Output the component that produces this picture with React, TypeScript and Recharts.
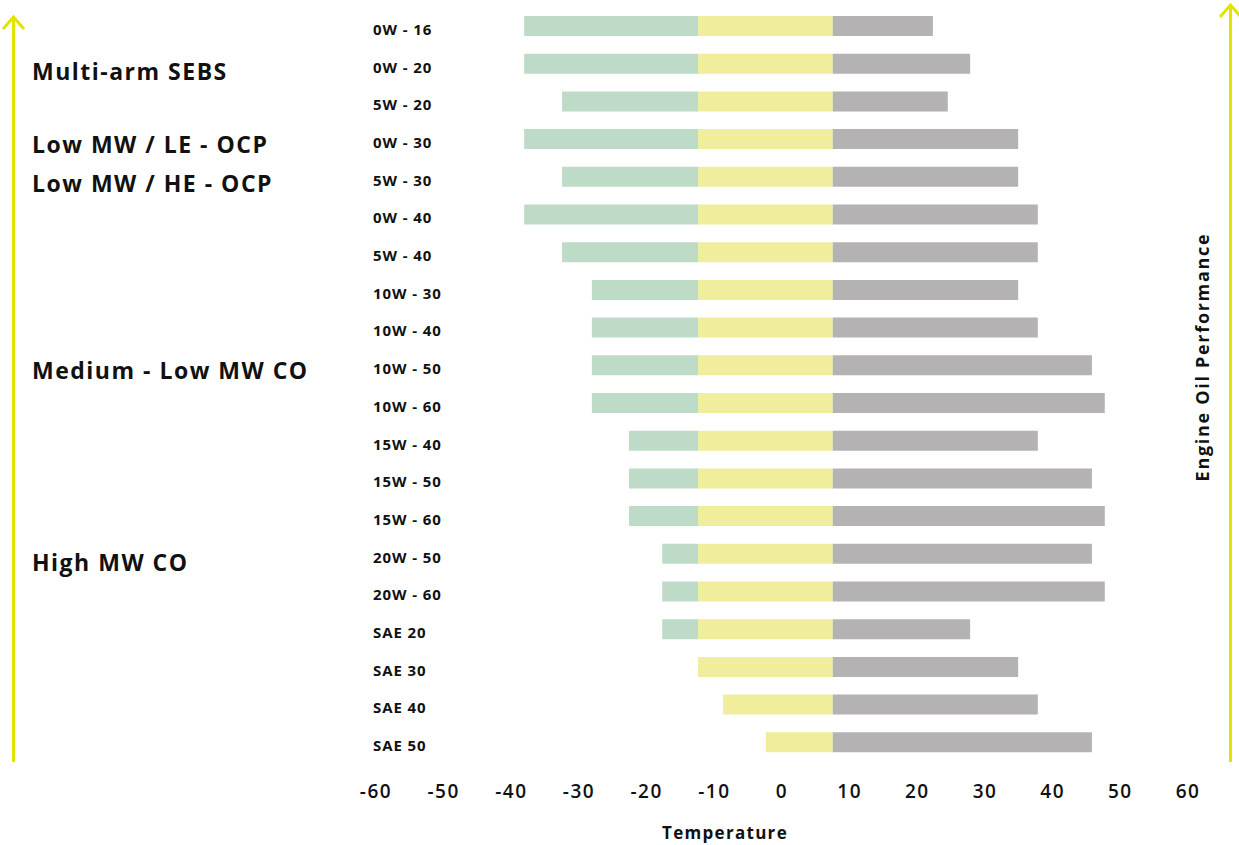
import React from 'react';
import { BarChart, Bar, XAxis, YAxis } from 'recharts';

const categories = [
  '0W - 16', '0W - 20', '5W - 20', '0W - 30', '5W - 30', '0W - 40', '5W - 40',
  '10W - 30', '10W - 40', '10W - 50', '10W - 60', '15W - 40', '15W - 50', '15W - 60',
  '20W - 50', '20W - 60', 'SAE 20', 'SAE 30', 'SAE 40', 'SAE 50',
];
// start of the cold (green) range
const coldStart: (number | null)[] = [
  -38.1, -38.1, -32.5, -38.1, -32.5, -38.1, -32.5,
  -28.1, -28.1, -28.1, -28.1, -22.6, -22.6, -22.6,
  -17.7, -17.7, -17.7, null, null, null,
];
// start of the mid (yellow) range
const midStart = [
  -12.4, -12.4, -12.4, -12.4, -12.4, -12.4, -12.4,
  -12.4, -12.4, -12.4, -12.4, -12.4, -12.4, -12.4,
  -12.4, -12.4, -12.4, -12.4, -8.7, -2.4,
];
// start of the hot (grey) range
const hotStart = [
  7.5, 7.5, 7.5, 7.5, 7.5, 7.5, 7.5, 7.5, 7.5, 7.5,
  7.5, 7.5, 7.5, 7.5, 7.5, 7.5, 7.5, 7.5, 7.5, 7.5,
];
// end of the hot (grey) range
const hotEnd = [
  22.3, 27.8, 24.5, 34.9, 34.9, 37.8, 37.8,
  34.9, 37.8, 45.8, 47.7, 37.8, 45.8, 47.7,
  45.8, 47.7, 27.8, 34.9, 37.8, 45.8,
];
const xTicks = [-60, -50, -40, -30, -20, -10, 0, 10, 20, 30, 40, 50, 60];
const groupLabels = [
  'Multi-arm SEBS',
  'Low MW / LE - OCP',
  'Low MW / HE - OCP',
  'Medium - Low MW CO',
  'High MW CO',
];
const xTitle = 'Temperature';
const yTitle = 'Engine Oil Performance';

const data = categories.map((name, i) => ({
  name,
  cold: coldStart[i] == null ? null : [coldStart[i], midStart[i]],
  mid: [midStart[i], hotStart[i]],
  hot: [hotStart[i], hotEnd[i]],
}));

const FONT = "'Open Sans', 'DejaVu Sans', sans-serif";
const ARROW = '#e3e300';
const groupLabelTop = [71, 144, 183, 370, 562];

const CatTick = (props: any) => {
  const { x, y, payload } = props;
  return (
    <text
      x={x - 3}
      y={y + 3}
      textAnchor="start"
      dominantBaseline="central"
      fontFamily={FONT}
      fontSize={15}
      fontWeight={700}
      letterSpacing={0.9}
      fill="#111"
    >
      {payload.value}
    </text>
  );
};

export default function App() {
  return (
    <div style={{ position: 'absolute', left: 0, top: 0, width: 1239, height: 845, background: '#fff' }}>
      <BarChart
        width={1239}
        height={845}
        data={data}
        layout="vertical"
        margin={{ top: 7, right: 51, bottom: 24, left: 316 }}
        barSize={20}
        barGap={-20}
      >
        <XAxis
          type="number"
          domain={[-60, 60]}
          ticks={xTicks}
          interval={0}
          axisLine={false}
          tickLine={false}
          tickSize={0}
          tickMargin={24}
          height={60}
          tick={{ fontSize: 19, fontWeight: 600, fill: '#111', fontFamily: FONT, letterSpacing: 1.5 }}
        />
        <YAxis
          type="category"
          dataKey="name"
          width={60}
          interval={0}
          axisLine={false}
          tickLine={false}
          tickSize={0}
          tickMargin={0}
          tick={CatTick}
        />
        <Bar dataKey="cold" fill="#bedbc8" isAnimationActive={false} />
        <Bar dataKey="mid" fill="#f0ed9c" isAnimationActive={false} />
        <Bar dataKey="hot" fill="#b4b2b3" isAnimationActive={false} />
      </BarChart>
      <svg
        width={1239}
        height={845}
        style={{ position: 'absolute', left: 0, top: 0, pointerEvents: 'none' }}
      >
        <line x1={13.5} y1={762} x2={13.5} y2={18} stroke={ARROW} strokeWidth={3} />
        <polyline points="3,29 13.5,17 24,29" fill="none" stroke={ARROW} strokeWidth={3} />
        <line x1={1230.5} y1={762} x2={1230.5} y2={6} stroke={ARROW} strokeWidth={3} />
        <polyline points="1220,17 1230.5,5 1241,17" fill="none" stroke={ARROW} strokeWidth={3} />
        {groupLabels.map((t, i) => (
          <text
            key={t}
            x={32}
            y={groupLabelTop[i]}
            dominantBaseline="central"
            fontFamily={FONT}
            fontSize={23}
            fontWeight={700}
            letterSpacing={1.5}
            fill="#111"
          >
            {t}
          </text>
        ))}
        <text
          x={725}
          y={832}
          textAnchor="middle"
          dominantBaseline="central"
          fontFamily={FONT}
          fontSize={17}
          fontWeight={700}
          letterSpacing={1.3}
          fill="#111"
        >
          {xTitle}
        </text>
        <text
          x={1202}
          y={357}
          transform="rotate(-90 1202 357)"
          textAnchor="middle"
          dominantBaseline="central"
          fontFamily={FONT}
          fontSize={18}
          fontWeight={700}
          letterSpacing={1.7}
          fill="#111"
        >
          {yTitle}
        </text>
      </svg>
    </div>
  );
}
